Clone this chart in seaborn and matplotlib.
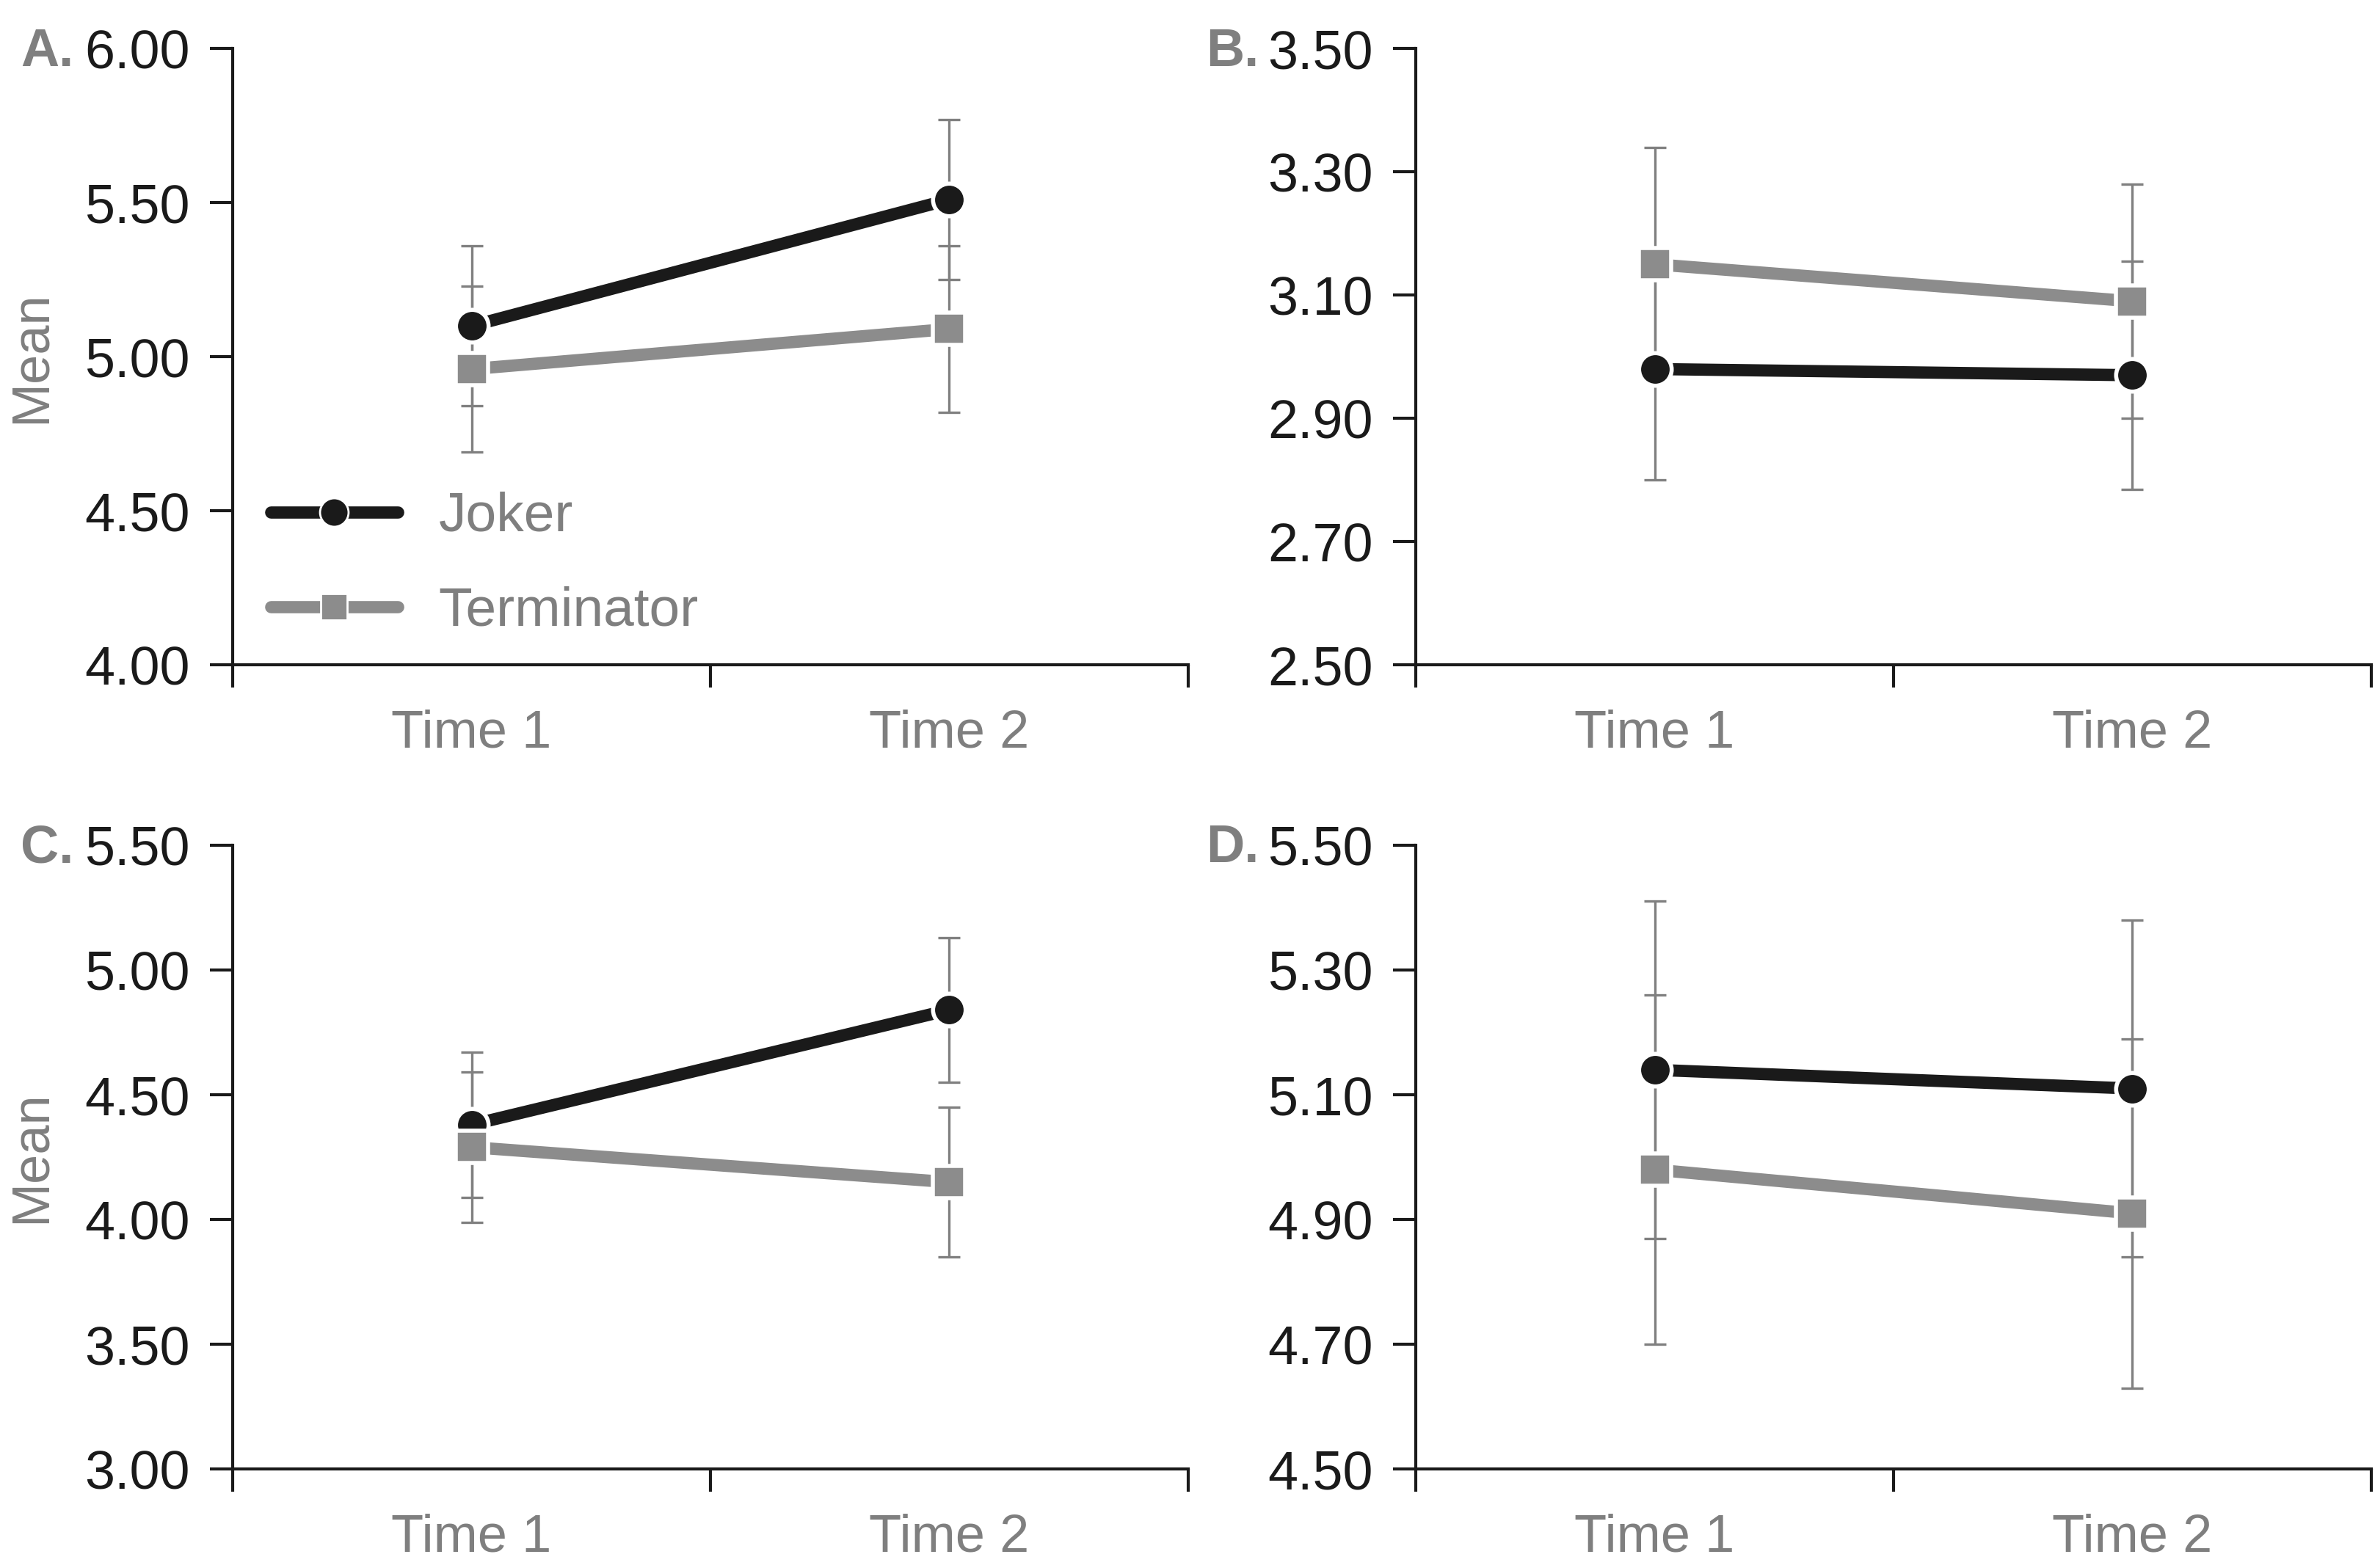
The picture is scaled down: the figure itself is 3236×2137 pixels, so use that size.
"""
Four-panel line chart: Joker vs Terminator means at Time 1 and Time 2,
with error bars. Saves out.png
"""

import matplotlib.pyplot as plt
import pandas as pd
import seaborn as sns
from matplotlib.lines import Line2D
from matplotlib.ticker import FormatStrFormatter

sns.set_style("white")
plt.rcParams["font.family"] = ["Liberation Sans", "DejaVu Sans"]

times = ["Time 1", "Time 2"]
groups = ["Joker", "Terminator"]
panel_names = ["A.", "B.", "C.", "D."]

# means and error bar half-widths
joker_means = [[5.10, 5.51], [2.98, 2.97], [4.38, 4.84], [5.14, 5.11]]
joker_errs = [[0.26, 0.26], [0.18, 0.185], [0.29, 0.29], [0.27, 0.27]]
term_means = [[4.96, 5.09], [3.15, 3.09], [4.29, 4.15], [4.98, 4.91]]
term_errs = [[0.27, 0.27], [0.19, 0.19], [0.30, 0.30], [0.28, 0.28]]

y_limits = [(4.0, 6.0), (2.5, 3.5), (3.0, 5.5), (4.5, 5.5)]
y_steps = [0.5, 0.2, 0.5, 0.2]

BLACK = "#1a1a1a"
GREY = "#8c8c8c"
ERR_GREY = "#808080"
TEXT_GREY = "#7f7f7f"


def _make_frame(i):
    """long table for one panel"""
    rows = []
    for j, t in enumerate(times):
        rows.append({"x": j, "time": t, "group": "Joker",
                     "mean": joker_means[i][j], "err": joker_errs[i][j]})
    for j, t in enumerate(times):
        rows.append({"x": j, "time": t, "group": "Terminator",
                     "mean": term_means[i][j], "err": term_errs[i][j]})
    return pd.DataFrame(rows)


def main():
    fig = plt.figure(figsize=(32.37, 21.37), dpi=100)
    boxes = [
        [0.098, 0.576, 0.402, 0.393],
        [0.596, 0.576, 0.402, 0.393],
        [0.098, 0.063, 0.402, 0.398],
        [0.596, 0.063, 0.402, 0.398],
    ]
    label_pos = [(0.031, 0.967), (0.530, 0.967), (0.031, 0.459),
                 (0.530, 0.459)]

    for i, box in enumerate(boxes):
        ax = fig.add_axes(box)
        df = _make_frame(i)

        # error bars first, underneath
        for g in groups:
            sub = df[df["group"] == g]
            ax.errorbar(sub["x"], sub["mean"], yerr=sub["err"], fmt="none",
                        ecolor=ERR_GREY, elinewidth=2.4, capsize=11,
                        capthick=2.4, zorder=1)

        sns.lineplot(data=df, x="x", y="mean", hue="group", style="group",
                     hue_order=groups, style_order=groups,
                     palette={"Joker": BLACK, "Terminator": GREY},
                     markers={"Joker": "o", "Terminator": "s"},
                     dashes=False, linewidth=12, markersize=32,
                     markeredgewidth=4, legend=False, ax=ax, zorder=3)

        lo, hi = y_limits[i]
        step = y_steps[i]
        n = int(round((hi - lo) / step))
        ax.set_ylim(lo, hi)
        ax.set_yticks([lo + k * step for k in range(n + 1)])
        ax.yaxis.set_major_formatter(FormatStrFormatter("%.2f"))

        ax.set_xlim(-0.5, 1.5)
        ax.set_xticks([0, 1])
        ax.set_xticklabels(times)
        ax.set_xticks([-0.5, 0.5, 1.5], minor=True)
        ax.tick_params(axis="x", which="major", bottom=False, pad=40,
                       labelsize=52, labelcolor=TEXT_GREY)
        ax.tick_params(axis="x", which="minor", bottom=True, length=22,
                       width=3, color=BLACK, direction="out")
        ax.tick_params(axis="y", left=True, length=22, width=3, color=BLACK,
                       direction="out", pad=20, labelsize=53,
                       labelcolor=BLACK)

        for s in ["top", "right"]:
            ax.spines[s].set_visible(False)
        for s in ["left", "bottom"]:
            ax.spines[s].set_color(BLACK)
            ax.spines[s].set_linewidth(3)

        ax.set_xlabel("")
        if i % 2 == 0:
            ax.set_ylabel("Mean", fontsize=52, color=TEXT_GREY)
            ax.yaxis.set_label_coords(-0.185, 0.5)
        else:
            ax.set_ylabel("")

        fig.text(label_pos[i][0], label_pos[i][1], panel_names[i],
                 fontsize=52, fontweight="bold", color=TEXT_GREY,
                 ha="right", va="center")

        if i == 0:
            handles = [
                Line2D([], [], color=BLACK, lw=12, marker="o", ms=28,
                       mec="w", mew=2),
                Line2D([], [], color=GREY, lw=12, marker="s", ms=26,
                       mec="w", mew=2),
            ]
            leg = ax.legend(handles, groups, loc="lower left",
                            bbox_to_anchor=(-0.012, -0.035), frameon=False,
                            fontsize=54, handlelength=2.3,
                            handletextpad=0.75, labelspacing=0.8)
            for t in leg.get_texts():
                t.set_color(TEXT_GREY)

    fig.savefig("out.png", dpi=100)


if __name__ == "__main__":
    main()
